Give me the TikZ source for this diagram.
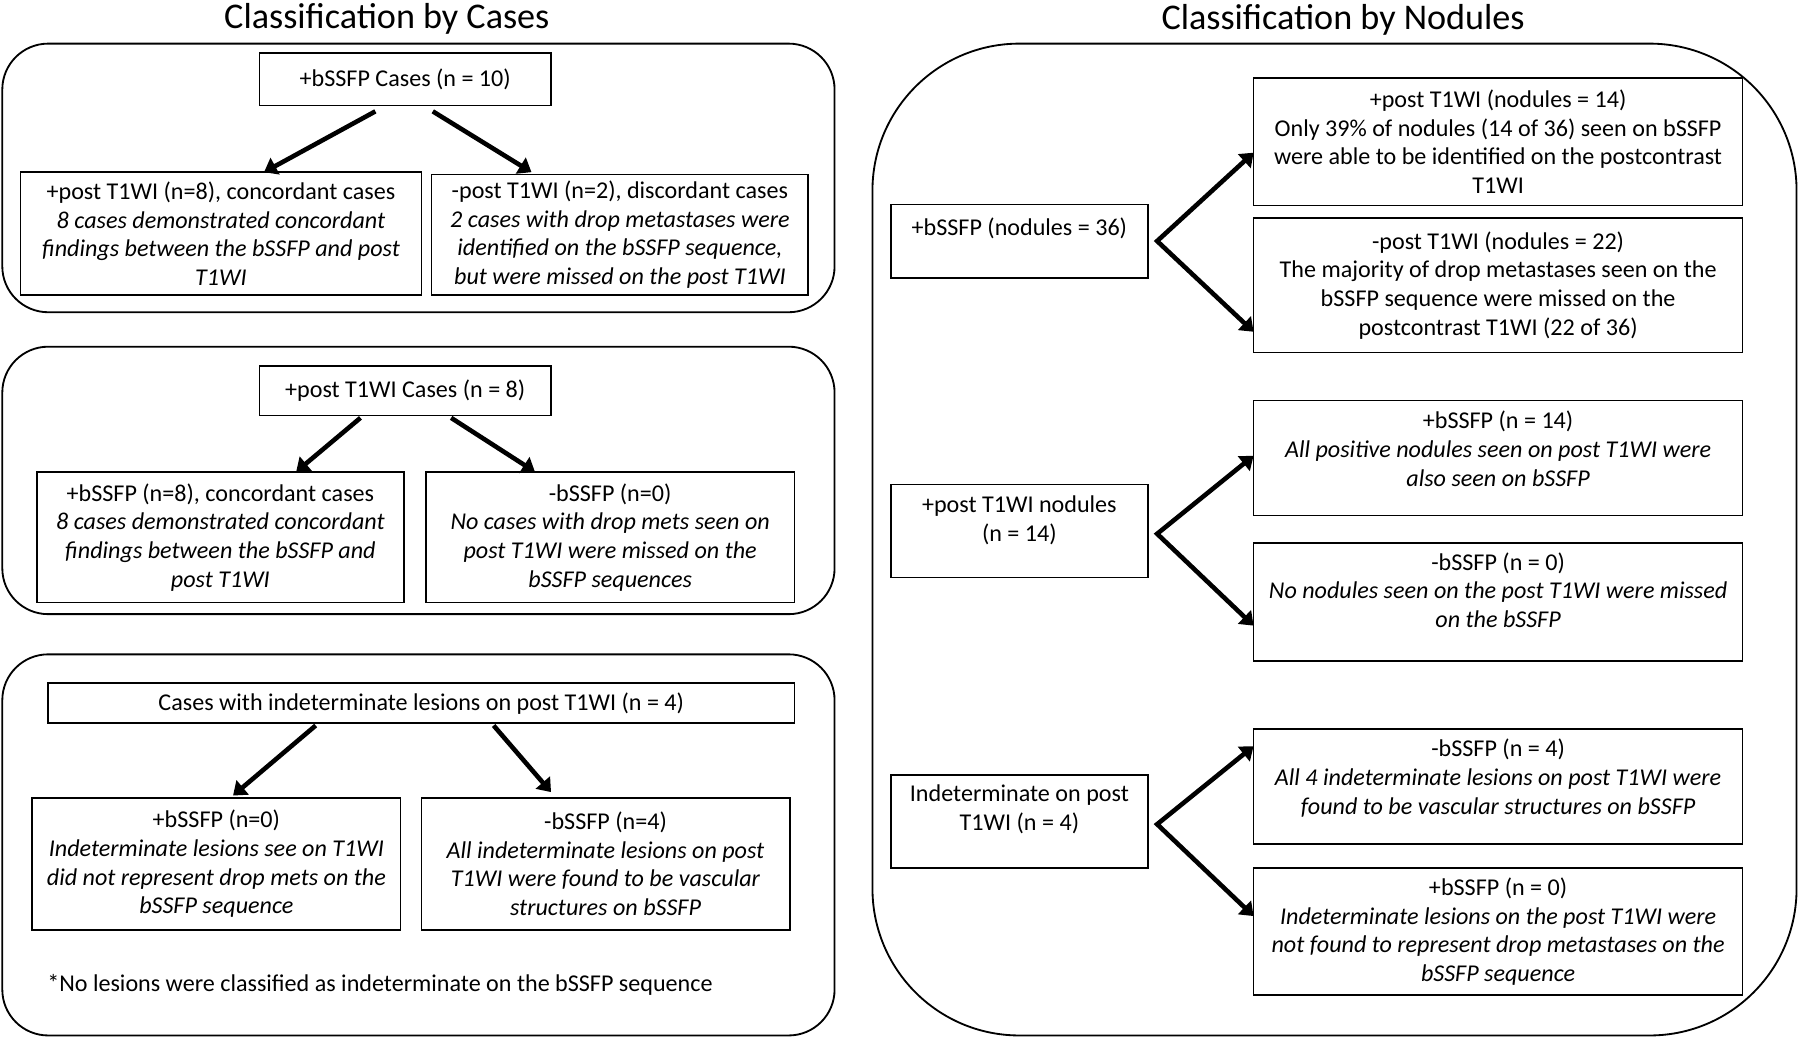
\documentclass[tikz,border=0pt]{standalone}
\usepackage{fontspec}
\setmainfont{Carlito}
\usetikzlibrary{arrows.meta}
\begin{document}
\begin{tikzpicture}[x=1pt,y=-1pt,
  box/.style={draw, line width=1.4pt, inner sep=1pt, outer sep=0pt, align=center, font=\fontsize{21}{25}\selectfont},
  cont/.style={draw, line width=1.6pt, rounded corners=40pt},
  arr/.style={line width=4pt, -{Triangle[length=11pt,width=16pt]}},
  arrb/.style={line width=4pt, {Triangle[length=11pt,width=16pt]}-{Triangle[length=11pt,width=16pt]}},
  ttl/.style={font=\fontsize{31.5}{36}\selectfont, inner sep=0pt},
  foot/.style={font=\fontsize{21}{25}\selectfont, inner sep=0pt, anchor=west}]
\useasboundingbox (0,0) rectangle (1568,904);

% titles
\node[ttl] (t1) at (337,16) {Classification by Cases};
\node[ttl] (t2) at (1170,17) {Classification by Nodules};

% containers
\draw[cont] (2,38) rectangle (727,272);
\draw[cont] (2,302) rectangle (727,535);
\draw[cont] (2,570) rectangle (727,902);
\draw[cont, rounded corners=128pt] (760,38) rectangle (1565,902);

% left group 1
\node[box, minimum width=254pt, minimum height=46pt] (c1top) at (353,69) {+bSSFP Cases (n = 10)};
\node[box, minimum width=349pt, minimum height=107pt] (c1a) at (192.5,203.5) {+post T1WI (n=8), concordant cases\\ \textit{8 cases demonstrated concordant}\\ \textit{findings between the bSSFP and post}\\ \textit{T1WI}};
\node[box, minimum width=328pt, minimum height=105pt] (c1b) at (540,204.5) {-post T1WI (n=2), discordant cases\\ \textit{2 cases with drop metastases were}\\ \textit{identified on the bSSFP sequence,}\\ \textit{but were missed on the post T1WI}};

% left group 2
\node[box, minimum width=254pt, minimum height=43pt] (c2top) at (353,340.5) {+post T1WI Cases (n = 8)};
\node[box, minimum width=320pt, minimum height=114pt] (c2a) at (192,468) {+bSSFP (n=8), concordant cases\\ \textit{8 cases demonstrated concordant}\\ \textit{findings between the bSSFP and}\\ \textit{post T1WI}};
\node[box, minimum width=321pt, minimum height=114pt] (c2b) at (531.5,468) {-bSSFP (n=0)\\ \textit{No cases with drop mets seen on}\\ \textit{post T1WI were missed on the}\\ \textit{bSSFP sequences}};

% left group 3
\node[box, minimum width=650pt, minimum height=35pt] (c3top) at (367,612.5) {Cases with indeterminate lesions on post T1WI (n = 4)};
\node[box, minimum width=321pt, minimum height=115pt] (c3a) at (188.5,752.5) {+bSSFP (n=0)\\ \textit{Indeterminate lesions see on T1WI}\\ \textit{did not represent drop mets on the}\\ \textit{bSSFP sequence}};
\node[box, minimum width=321pt, minimum height=115pt] (c3b) at (527.5,752.5) {-bSSFP (n=4)\\ \textit{All indeterminate lesions on post}\\ \textit{T1WI were found to be vascular}\\ \textit{structures on bSSFP}};
\node[foot] (fn) at (41,858) {*No lesions were classified as indeterminate on the bSSFP sequence};

% left arrows
\draw[arr] ([xshift=-26pt,yshift=-5pt]c1top.south) -- ([xshift=37.5pt]c1a.north);
\draw[arr] ([xshift=24pt,yshift=-5pt]c1top.south) -- ([xshift=-77pt,yshift=2pt]c1b.north);
\draw[arr] ([xshift=-39pt,yshift=-2pt]c2top.south) -- ([xshift=66pt]c2a.north);
\draw[arr] ([xshift=40pt,yshift=-2pt]c2top.south) -- ([xshift=-65.5pt]c2b.north);
\draw[arr] ([xshift=-92pt,yshift=-2pt]c3top.south) -- ([xshift=14.5pt,yshift=2pt]c3a.north);
\draw[arr] ([xshift=63pt,yshift=-2pt]c3top.south) -- ([xshift=-47.5pt,yshift=5pt]c3b.north);

% right side
\node[box, minimum width=224pt, minimum height=64pt] (n1) at (888,210) {+bSSFP (nodules = 36)\\[0pt]\mbox{}};
\node[box, minimum width=426pt, minimum height=111pt] (n1a) at (1305,123.5) {+post T1WI (nodules = 14)\\ Only 39\% of nodules (14 of 36) seen on bSSFP\\ were able to be identified on the postcontrast\\ T1WI};
\node[box, minimum width=426pt, minimum height=117pt] (n1b) at (1305,248.5) {-post T1WI (nodules = 22)\\ The majority of drop metastases seen on the\\ bSSFP sequence were missed on the\\ postcontrast T1WI (22 of 36)};

\node[box, minimum width=224pt, minimum height=81pt] (n2) at (888,462.5) {+post T1WI nodules\\ (n = 14)\\[-3pt]\mbox{}};
\node[box, minimum width=426pt, minimum height=100pt] (n2a) at (1305,399) {+bSSFP (n = 14)\\ \textit{All positive nodules seen on post T1WI were}\\ \textit{also seen on bSSFP}\\[-9pt]\mbox{}};
\node[box, minimum width=426pt, minimum height=103pt] (n2b) at (1305,524.5) {-bSSFP (n = 0)\\ \textit{No nodules seen on the post T1WI were missed}\\ \textit{on the bSSFP}\\[-4pt]\mbox{}};

\node[box, minimum width=224pt, minimum height=81pt] (n3) at (888,715.5) {Indeterminate on post\\ T1WI (n = 4)\\[-1pt]\mbox{}};
\node[box, minimum width=426pt, minimum height=100pt] (n3a) at (1305,685) {-bSSFP (n = 4)\\ \textit{All 4 indeterminate lesions on post T1WI were}\\ \textit{found to be vascular structures on bSSFP}\\[-8pt]\mbox{}};
\node[box, minimum width=426pt, minimum height=111pt] (n3b) at (1305,811.5) {+bSSFP (n = 0)\\ \textit{Indeterminate lesions on the post T1WI were}\\ \textit{not found to represent drop metastases on the}\\ \textit{bSSFP sequence}};

% right arrows
\coordinate (f1) at ([xshift=8pt]n1.east);
\coordinate (f2) at ([xshift=8pt,yshift=-2.5pt]n2.east);
\coordinate (f3) at ([xshift=8pt,yshift=-2.5pt]n3.east);
\draw[arrb] ([yshift=-9.5pt]n1a.west) -- (f1) -- ([yshift=-40.5pt]n1b.west);
\draw[arrb] ([yshift=2pt]n2a.west) -- (f2) -- ([yshift=-20.5pt]n2b.west);
\draw[arrb] ([yshift=35pt]n3a.west) -- (f3) -- ([yshift=13.5pt]n3b.west);
\end{tikzpicture}
\end{document}
